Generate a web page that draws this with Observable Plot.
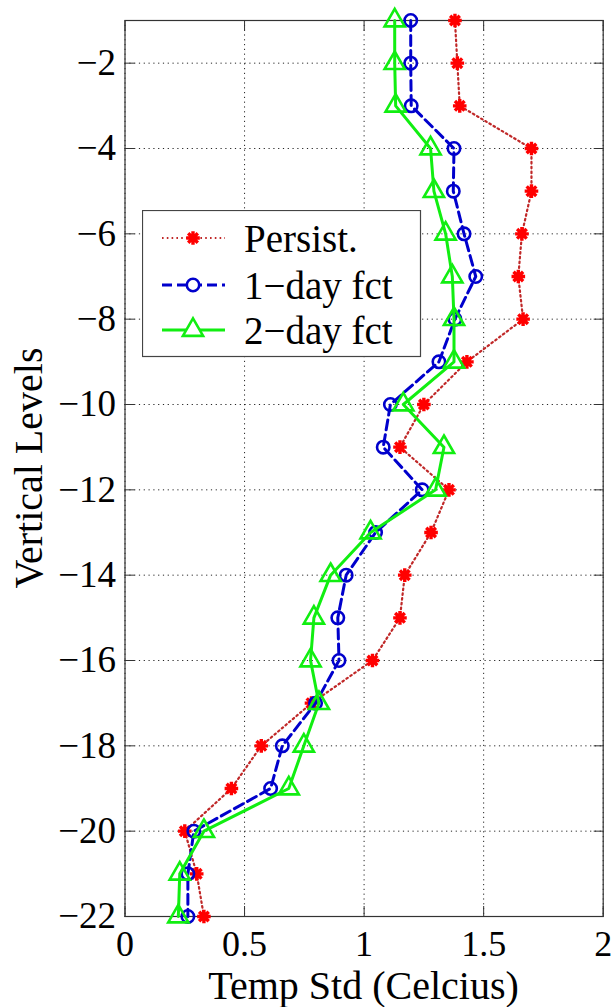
<!DOCTYPE html>
<html>
<head>
<meta charset="utf-8">
<script src="https://cdn.jsdelivr.net/npm/d3@7"></script>
<script src="https://cdn.jsdelivr.net/npm/@observablehq/plot@0.6"></script>
<style>
  html, body { margin: 0; padding: 0; background: #fff; }
  #wrap { position: relative; width: 613px; height: 1007px; overflow: hidden; background: #fff; }
  #wrap svg { display: block; }
</style>
</head>
<body>
<div id="wrap"></div>
<script>
// ---- data ----
const levels = [-1, -2, -3, -4, -5, -6, -7, -8, -9, -10, -11, -12, -13, -14, -15, -16, -17, -18, -19, -20, -21, -22];
const persist = [1.38, 1.39, 1.40, 1.70, 1.70, 1.66, 1.645, 1.665, 1.43, 1.25, 1.15, 1.355, 1.28, 1.17, 1.15, 1.035, 0.78, 0.57, 0.445, 0.25, 0.30, 0.33];
const fct1 = [1.195, 1.195, 1.197, 1.376, 1.373, 1.418, 1.467, 1.38, 1.313, 1.11, 1.08, 1.243, 1.048, 0.925, 0.89, 0.895, 0.797, 0.658, 0.609, 0.288, 0.263, 0.263];
const fct2 = [1.128, 1.128, 1.132, 1.278, 1.292, 1.341, 1.369, 1.376, 1.376, 1.164, 1.334, 1.299, 1.027, 0.86, 0.79, 0.776, 0.811, 0.748, 0.685, 0.33, 0.229, 0.223];
const seriesNames = ["Persist.", "1\u2212day fct", "2\u2212day fct"];
const xTicks = [0, 0.5, 1, 1.5, 2];
const yTicks = [-2, -4, -6, -8, -10, -12, -14, -16, -18, -20, -22];
const xTitle = "Temp Std (Celcius)";
const yTitle = "Vertical Levels";

const toRows = (vals) => levels.map((lv, i) => ({level: lv, value: vals[i]}));
const rowsP = toRows(persist), rows1 = toRows(fct1), rows2 = toRows(fct2);

const W = 613, H = 1007;
const mL = 124.5, mR = 10.3, mT = 20, mB = 91;
const FONT = "'Liberation Serif', 'Times New Roman', serif";

// MATLAB-style 8-spoke asterisk
const star8 = {
  draw(ctx, size) {
    const r = Math.sqrt(size / Math.PI);
    for (let k = 0; k < 4; ++k) {
      const a = k * Math.PI / 4;
      const dx = r * Math.cos(a), dy = r * Math.sin(a);
      ctx.moveTo(-dx, -dy);
      ctx.lineTo(dx, dy);
    }
  }
};

const styles = [
  {line: {stroke: "#c02828", strokeWidth: 2.2, strokeDasharray: "1.6,3.2"}, symbol: star8, dot: {stroke: "#ff0000", strokeWidth: 3.4, r: 6.8, fill: "none"}},
  {line: {stroke: "#0000cc", strokeWidth: 3, strokeDasharray: "10,5"}, symbol: d3.symbolCircle, dot: {stroke: "#0000cc", strokeWidth: 2.6, r: 6.2, fill: "none"}},
  {line: {stroke: "#11ee11", strokeWidth: 3}, symbol: d3.symbolTriangle, dot: {stroke: "#11ee11", strokeWidth: 2.6, r: 7.5, fill: "none"}}
];
const allRows = [rowsP, rows1, rows2];

const marks = [
  Plot.ruleX(xTicks, {stroke: "#000", strokeOpacity: 0.85, strokeWidth: 1, strokeDasharray: "1.2,3.6"}),
  Plot.ruleY(yTicks, {stroke: "#000", strokeOpacity: 0.85, strokeWidth: 1, strokeDasharray: "1.2,3.6"}),
  Plot.axisX(xTicks, {anchor: "bottom", tickSize: -10, tickPadding: 24, label: null, stroke: "#333", fill: "#000", fontSize: 36, tickFormat: d => String(d)}),
  Plot.axisX(xTicks, {anchor: "top", tickSize: -10, label: null, stroke: "#333", tickFormat: () => ""}),
  Plot.axisY(yTicks, {anchor: "left", tickSize: -10, tickPadding: 19, label: null, stroke: "#333", fill: "#000", fontSize: 37}),
  Plot.axisY(yTicks, {anchor: "right", tickSize: -10, label: null, stroke: "#333", tickFormat: () => ""}),
  Plot.frame({stroke: "#333", strokeWidth: 1.2})
];
allRows.forEach((rows, i) => {
  marks.push(Plot.line(rows, {x: "value", y: "level", curve: "linear", ...styles[i].line}));
  marks.push(Plot.dot(rows, {x: "value", y: "level", symbol: styles[i].symbol, ...styles[i].dot}));
});

const chart = Plot.plot({
  width: W,
  height: H,
  marginLeft: mL,
  marginRight: mR,
  marginTop: mT,
  marginBottom: mB,
  style: {fontFamily: FONT, fontSize: "37px", background: "#fff", color: "#000", overflow: "visible"},
  x: {domain: [0, 2], label: null},
  y: {domain: [-22, -1], label: null},
  marks
});

const wrap = document.getElementById("wrap");
wrap.appendChild(chart);

// axis titles
const svg = d3.select(chart);
svg.append("text")
  .attr("x", (mL + W - mR) / 2)
  .attr("y", 999)
  .attr("text-anchor", "middle")
  .style("font-family", FONT)
  .style("font-size", "40px")
  .attr("fill", "#000")
  .text(xTitle);
svg.append("text")
  .attr("transform", `translate(42,${(mT + H - mB) / 2}) rotate(-90)`)
  .attr("text-anchor", "middle")
  .style("font-family", FONT)
  .style("font-size", "40px")
  .attr("fill", "#000")
  .text(yTitle);

// legend
const lg = d3.select(wrap).append("svg")
  .attr("width", 280).attr("height", 148)
  .style("position", "absolute").style("left", "142px").style("top", "210px");
lg.append("rect").attr("x", 0.5).attr("y", 0.5).attr("width", 278).attr("height", 146)
  .attr("fill", "#fff").attr("stroke", "#444").attr("stroke-width", 1.2);
const rowY = [28, 75, 120];
seriesNames.forEach((name, i) => {
  const s = styles[i];
  const g = lg.append("g").attr("transform", `translate(0,${rowY[i]})`);
  const ln = g.append("line").attr("x1", 20).attr("x2", 83).attr("y1", 0).attr("y2", 0)
    .attr("stroke", s.line.stroke).attr("stroke-width", s.line.strokeWidth);
  if (s.line.strokeDasharray) ln.attr("stroke-dasharray", s.line.strokeDasharray);
  g.append("path")
    .attr("transform", "translate(51,0)")
    .attr("d", d3.symbol(s.symbol, Math.PI * s.dot.r * s.dot.r)())
    .attr("fill", "#fff").attr("stroke", s.dot.stroke).attr("stroke-width", s.dot.strokeWidth);
  g.append("text").attr("x", 102).attr("y", 13.5)
    .style("font-family", FONT).style("font-size", "39px")
    .attr("fill", "#000").text(name);
});
</script>
</body>
</html>
